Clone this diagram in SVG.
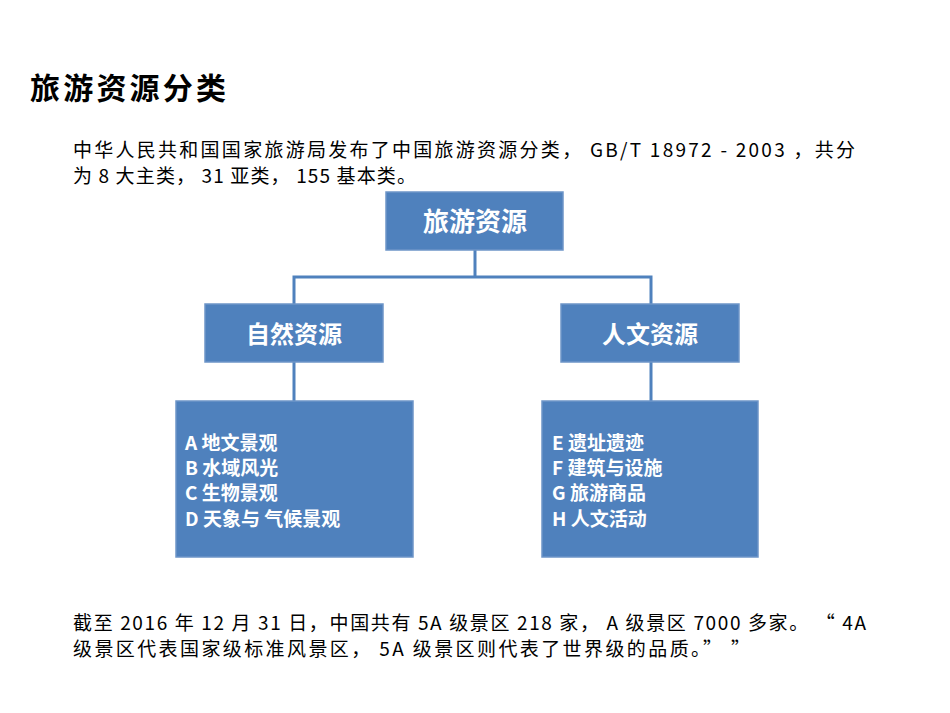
<svg xmlns="http://www.w3.org/2000/svg" width="950" height="713" viewBox="0 0 950 713" xml:space="preserve">
<style>
.t{font-family:"Noto Sans CJK SC","Liberation Sans",sans-serif;fill:#000}
.b{fill:#4f81bd;stroke:#6d95c8;stroke-width:1.5}
.w{font-family:"Noto Sans CJK SC","Liberation Sans",sans-serif;fill:#fff;font-weight:bold}
.c{stroke:#4f81bd;stroke-width:3;fill:none}
</style>
<rect width="950" height="713" fill="#fff"/>
<text class="t" x="30" y="99" font-size="30" font-weight="bold" textLength="196">旅游资源分类</text>
<text class="t" font-size="19"><tspan x="73" y="157" textLength="782">中华人民共和国国家旅游局发布了中国旅游资源分类， GB/T 18972  -  2003 ，共分</tspan><tspan x="73" y="183" textLength="343">为 8 大主类， 31 亚类， 155 基本类。</tspan></text>
<g id="connectors">
<path class="c" d="M475 250V277M294 304V277H651V304M294 362V401M651 362V401"/>
</g>
<g id="root"><rect class="b" x="386" y="192" width="177" height="58"/><text class="w" x="475" y="231" font-size="26" text-anchor="middle">旅游资源</text></g>
<g id="natural"><rect class="b" x="205" y="304" width="178" height="58"/><text class="w" x="294" y="343" font-size="24" text-anchor="middle">自然资源</text></g>
<g id="human"><rect class="b" x="561" y="304" width="178" height="58"/><text class="w" x="650" y="343" font-size="24" text-anchor="middle">人文资源</text></g>
<g id="natural-list"><rect class="b" x="176" y="401" width="237" height="156"/>
<text class="w" font-size="19"><tspan x="185" y="450">A  地文景观</tspan><tspan x="185" y="475">B  水域风光</tspan><tspan x="185" y="500">C  生物景观</tspan><tspan x="185" y="526">D  天象与 气候景观</tspan></text></g>
<g id="human-list"><rect class="b" x="542" y="401" width="216" height="156"/>
<text class="w" font-size="19"><tspan x="552" y="450">E  遗址遗迹</tspan><tspan x="552" y="475">F  建筑与设施</tspan><tspan x="552" y="500">G  旅游商品</tspan><tspan x="552" y="526">H  人文活动</tspan></text></g>
<text class="t" font-size="19"><tspan x="73" y="630" textLength="793">截至 2016 年 12 月 31 日，中国共有 5A 级景区 218 家， A 级景区 7000 多家。 “ 4A</tspan><tspan x="73" y="656" textLength="677">级景区代表国家级标准风景区， 5A 级景区则代表了世界级的品质。”  ”</tspan></text>
</svg>
